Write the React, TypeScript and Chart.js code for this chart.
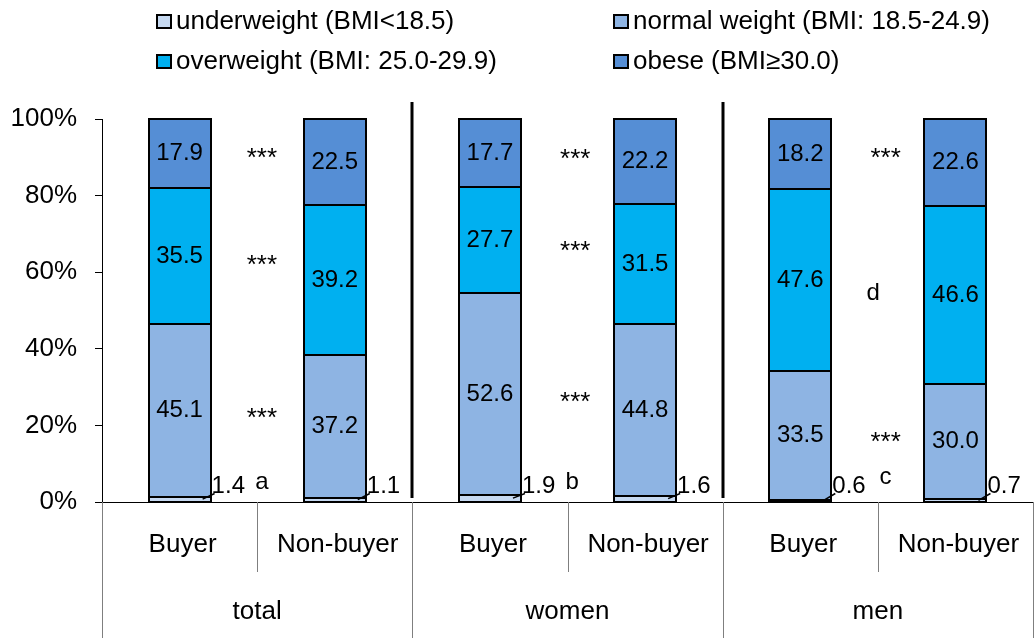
import React, { useEffect, useRef } from "react";
import { Chart, registerables } from "chart.js";

Chart.register(...registerables);

const FONT = '"Liberation Sans", Arial, sans-serif';

const groups = ["total", "women", "men"];
const categories = ["Buyer", "Non-buyer", "Buyer", "Non-buyer", "Buyer", "Non-buyer"];
const seriesLabels = [
  "underweight (BMI<18.5)",
  "normal weight (BMI: 18.5-24.9)",
  "overweight (BMI: 25.0-29.9)",
  "obese (BMI≥30.0)",
];
const underweight = [1.4, 1.1, 1.9, 1.6, 0.6, 0.7];
const normalWeight = [45.1, 37.2, 52.6, 44.8, 33.5, 30.0];
const overweight = [35.5, 39.2, 27.7, 31.5, 47.6, 46.6];
const obese = [17.9, 22.5, 17.7, 22.2, 18.2, 22.6];
const seriesColors = ["#c6d9f1", "#8eb4e3", "#00b0f0", "#558ed5"];

// significance marks: text, category position (fractional index), value (%)
const markText = ["***", "***", "***", "a", "***", "***", "***", "b", "***", "d", "***", "c"];
const markX = [0.53, 0.53, 0.53, 0.53, 2.55, 2.55, 2.55, 2.53, 4.55, 4.47, 4.55, 4.55];
const markY = [91.1, 63.2, 23.2, 5.0, 90.9, 66.8, 27.4, 5.2, 91.1, 54.6, 17.0, 6.5];

const seriesData = [underweight, normalWeight, overweight, obese];

const customPlugin = {
  id: "customDraw",
  afterDatasetsDraw(chart: any) {
    const ctx = chart.ctx;
    ctx.save();
    // segment outlines (shared edges drawn once, centred on the edge)
    ctx.strokeStyle = "#000";
    ctx.lineWidth = 2;
    chart.data.datasets.forEach((ds: any, di: number) => {
      const meta = chart.getDatasetMeta(di);
      meta.data.forEach((bar: any) => {
        const p = bar.getProps(["x", "y", "base", "width"], true);
        const l = Math.round(p.x - p.width / 2);
        const r = Math.round(p.x + p.width / 2);
        const t = Math.round(Math.min(p.y, p.base));
        const b = Math.round(Math.max(p.y, p.base));
        ctx.strokeRect(l, t, r - l, b - t);
      });
    });

    ctx.fillStyle = "#000";
    ctx.textBaseline = "middle";
    ctx.font = `24px ${FONT}`;
    chart.data.datasets.forEach((ds: any, di: number) => {
      const meta = chart.getDatasetMeta(di);
      meta.data.forEach((bar: any, i: number) => {
        const v = ds.data[i];
        const p = bar.getProps(["x", "y", "base", "width"], true);
        if (di === 0) {
          const rightEdge = p.x + p.width / 2;
          const cy = (p.y + p.base) / 2;
          ctx.strokeStyle = "#000";
          ctx.lineWidth = 1.5;
          ctx.beginPath();
          ctx.moveTo(rightEdge - 8, cy);
          ctx.lineTo(rightEdge + 4, p.base - 8);
          ctx.stroke();
          ctx.textAlign = "left";
          ctx.fillText(v.toFixed(1), rightEdge + 1, p.base - 15);
        } else {
          ctx.textAlign = "center";
          ctx.fillText(v.toFixed(1), p.x, (p.y + p.base) / 2);
        }
      });
    });
    ctx.restore();
  },
  afterDraw(chart: any) {
    const ctx = chart.ctx;
    const xs = chart.scales.x;
    const ys = chart.scales.y;
    const { top, bottom } = chart.chartArea;
    const H = chart.height;
    ctx.save();

    // thick group separators in plot area
    ctx.strokeStyle = "#000";
    ctx.lineWidth = 3;
    [1.5, 3.5].forEach((v) => {
      const px = Math.round(xs.getPixelForValue(v));
      ctx.beginPath();
      ctx.moveTo(px, top - 17);
      ctx.lineTo(px, bottom - 4);
      ctx.stroke();
    });

    // table lines below axis
    ctx.strokeStyle = "#7f7f7f";
    ctx.lineWidth = 1;
    [-0.5, 1.5, 3.5, 5.5].forEach((v) => {
      const px = Math.round(xs.getPixelForValue(v)) + 0.5;
      ctx.beginPath();
      ctx.moveTo(px, bottom);
      ctx.lineTo(px, H);
      ctx.stroke();
    });
    [0.5, 2.5, 4.5].forEach((v) => {
      const px = Math.round(xs.getPixelForValue(v)) + 0.5;
      ctx.beginPath();
      ctx.moveTo(px, bottom);
      ctx.lineTo(px, bottom + 70);
      ctx.stroke();
    });

    // category labels
    ctx.fillStyle = "#000";
    ctx.font = `26px ${FONT}`;
    ctx.textAlign = "center";
    ctx.textBaseline = "middle";
    categories.forEach((c, i) => {
      ctx.fillText(c, xs.getPixelForValue(i) + 3, bottom + 43);
    });
    groups.forEach((g, gi) => {
      ctx.fillText(g, xs.getPixelForValue(gi * 2 + 0.5), bottom + 110);
    });

    // significance marks
    markText.forEach((t, i) => {
      const px = xs.getPixelForValue(markX[i]);
      const py = ys.getPixelForValue(markY[i]);
      if (t === "***") {
        ctx.font = `26px ${FONT}`;
        ctx.fillText(t, px, py + 6);
      } else {
        ctx.font = `24px ${FONT}`;
        ctx.fillText(t, px, py);
      }
    });

    // legend
    const legendPos = [
      [157, 22],
      [614, 22],
      [157, 62],
      [614, 62],
    ];
    ctx.font = `26px ${FONT}`;
    ctx.textAlign = "left";
    seriesLabels.forEach((lbl, i) => {
      const [lx, ly] = legendPos[i];
      ctx.fillStyle = seriesColors[i];
      ctx.fillRect(lx, ly - 7, 14, 13);
      ctx.strokeStyle = "#000";
      ctx.lineWidth = 2;
      ctx.strokeRect(lx, ly - 7, 14, 13);
      ctx.fillStyle = "#000";
      ctx.fillText(lbl, lx + 19, ly);
    });

    ctx.restore();
  },
};

export default function App() {
  const canvasRef = useRef<HTMLCanvasElement | null>(null);

  useEffect(() => {
    if (!canvasRef.current) return;
    const chart = new Chart(canvasRef.current, {
      type: "bar",
      data: {
        labels: categories,
        datasets: seriesData.map((d, i) => ({
          label: seriesLabels[i],
          data: d,
          backgroundColor: seriesColors[i],
          borderWidth: 0,
          inflateAmount: 0,
          barPercentage: 0.4,
          categoryPercentage: 1,
        })),
      },
      options: {
        responsive: false,
        animation: false,
        devicePixelRatio: 1,
        layout: { padding: { top: 119, right: 1, left: 0, bottom: 0 } },
        plugins: {
          legend: { display: false },
          tooltip: { enabled: false },
          title: { display: false },
        },
        scales: {
          x: {
            stacked: true,
            ticks: { display: false },
            grid: { display: false },
            border: { display: true, color: "#000", width: 1 },
            afterFit: (s: any) => {
              s.height = 136;
            },
          },
          y: {
            stacked: true,
            min: 0,
            max: 100,
            ticks: {
              stepSize: 20,
              color: "#000",
              padding: 18,
              font: { size: 26, family: FONT },
              callback: (v: any) => `${v}%`,
            },
            grid: {
              drawOnChartArea: false,
              drawTicks: true,
              tickLength: 7,
              color: "#000",
            },
            border: { display: true, color: "#000", width: 1 },
            afterFit: (s: any) => {
              s.width = 102;
            },
          },
        },
      },
      plugins: [customPlugin],
    });
    return () => chart.destroy();
  }, []);

  return (
    <div style={{ position: "absolute", left: 0, top: 0, width: 1034, height: 638, background: "#fff" }}>
      <canvas ref={canvasRef} width={1034} height={638} />
    </div>
  );
}
